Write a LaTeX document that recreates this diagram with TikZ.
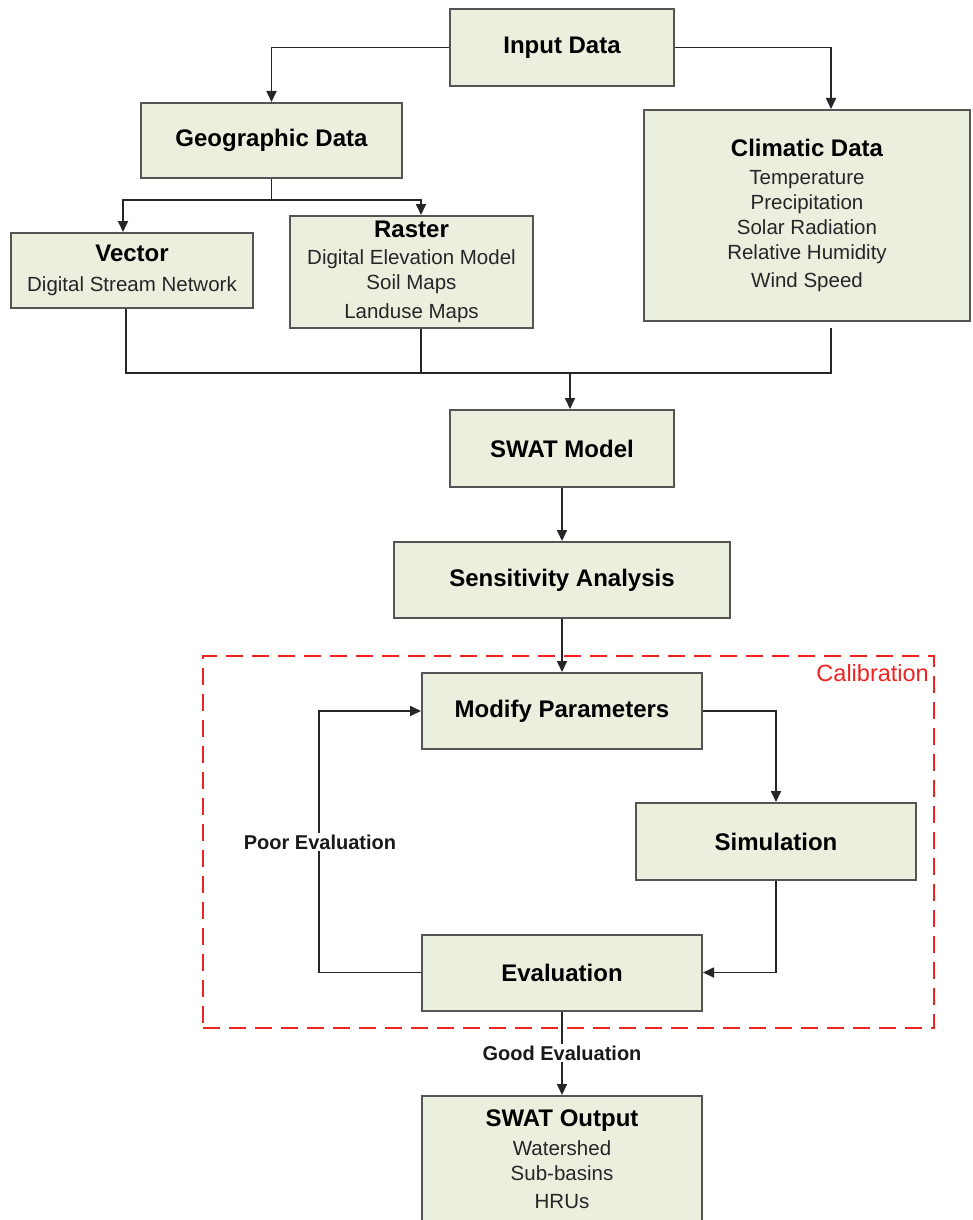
\documentclass[tikz,border=0pt]{standalone}
\usepackage{fontspec}
\setmainfont{Liberation Sans}
\usetikzlibrary{arrows.meta}
\definecolor{boxfill}{RGB}{235,239,222}
\definecolor{boxline}{RGB}{85,85,85}
\definecolor{calred}{RGB}{240,35,35}
\newcommand{\boxtitle}{\bfseries\fontsize{24}{28}\selectfont\color{black}}
\begin{document}
\begin{tikzpicture}[x=1pt,y=-1pt,
  box/.style={draw=boxline,line width=2pt,fill=boxfill,inner sep=0pt,
    align=center,text=black!85,font=\fontsize{20.5}{25}\selectfont},
  conn/.style={line width=1.7pt,draw=black!85},
  arr/.style={conn,-{Triangle[length=11pt,width=10pt]}},
  lbl/.style={fill=white,text=black!90,font=\bfseries\fontsize{20}{24}\selectfont,inner sep=2pt},
  calib/.style={draw=calred,line width=2.6pt,dash pattern=on 17pt off 9pt,inner sep=0pt}]
\useasboundingbox[fill=white] (0,0) rectangle (972,1220);

% calibration frame
\node[calib,minimum width=731pt,minimum height=372pt] (cal) at (568.5,842) {};
\node[text=calred,font=\fontsize{23.5}{28}\selectfont,anchor=east,inner sep=0pt] (caltxt) at (929,673) {Calibration};

% boxes
\node[box,minimum width=224pt,minimum height=77pt] (input) at (562,47.5) {\boxtitle Input Data};
\node[box,minimum width=261pt,minimum height=75pt] (geo) at (271.5,140.5) {\boxtitle Geographic Data};
\node[box,minimum width=242pt,minimum height=75pt] (vector) at (132,270.5)
  {{\boxtitle Vector}\\[5pt]Digital Stream Network};
\node[box,minimum width=243pt,minimum height=112pt] (raster) at (411.5,272)
  {{\boxtitle Raster}\\[2pt]Digital Elevation Model\\Soil Maps\\[4pt]Landuse Maps};
\node[box,minimum width=326pt,minimum height=211pt] (climatic) at (807,215.5)
  {{\boxtitle Climatic Data}\\[3pt]Temperature\\Precipitation\\Solar Radiation\\Relative Humidity\\[3pt]Wind Speed};
\node[box,minimum width=224pt,minimum height=77pt] (swat) at (562,448.5) {\boxtitle SWAT Model};
\node[box,minimum width=336pt,minimum height=76pt] (sens) at (562,580) {\boxtitle Sensitivity Analysis};
\node[box,minimum width=280pt,minimum height=76pt] (modify) at (562,711) {\boxtitle Modify Parameters};
\node[box,minimum width=280pt,minimum height=77pt] (sim) at (776,841.5) {\boxtitle Simulation};
\node[box,minimum width=280pt,minimum height=76pt] (eval) at (562,972.5) {\boxtitle Evaluation};
\node[box,minimum width=280pt,minimum height=126pt] (output) at (562,1159)
  {{\boxtitle SWAT Output}\\[4pt]Watershed\\Sub-basins\\[3pt]HRUs};

% junction points
\coordinate (split) at (271.5,200);
\coordinate (merge) at (570,373);

% connectors
\draw[arr] (input.west) -| (geo.north);
\draw[arr] (input.east) -| ([xshift=24pt]climatic.north);
\draw[conn] (geo.south) -- (split);
\draw[arr] (split) -| ([xshift=-9pt]vector.north);
\draw[arr] (split) -| ([xshift=9.5pt]raster.north);
\draw[conn] ([xshift=-6pt]vector.south) |- (merge);
\draw[conn] ([xshift=9.5pt]raster.south) |- (merge);
\draw[conn] ([xshift=24pt,yshift=-6pt]climatic.south) |- (merge);
\draw[arr] (merge) -- (merge |- swat.north);
\draw[arr] (swat.south) -- (sens.north);
\draw[arr] (sens.south) -- (modify.north);
\draw[arr] (modify.east) -| (sim.north);
\draw[arr] (sim.south) |- (eval.east);
\draw[arr] (eval.west) -- ++(-102pt,0) |- (modify.west);
\draw[arr] (eval.south) -- (output.north);

% connector labels
\node[lbl] (poor) at (320,842) {Poor Evaluation};
\node[lbl] (good) at (562,1053) {Good Evaluation};
\end{tikzpicture}
\end{document}
